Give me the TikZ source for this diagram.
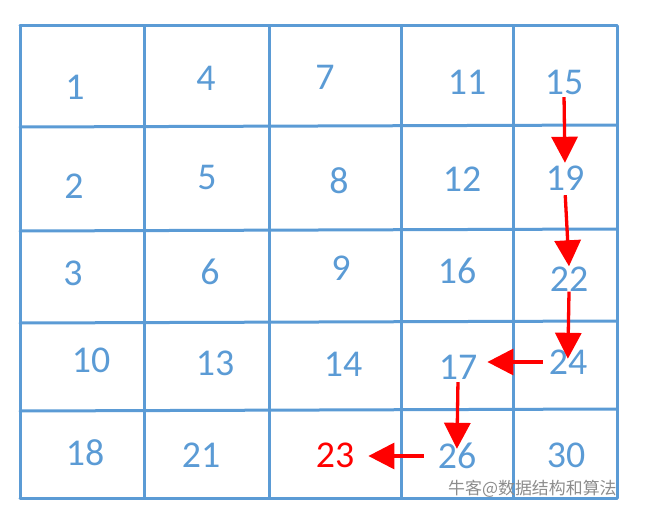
\documentclass[tikz,border=0pt]{standalone}
\usepackage{fontspec}
\setmainfont{Carlito}
\newfontfamily\cjkfont{Noto Sans CJK SC}
\usetikzlibrary{arrows.meta}
\definecolor{gridblue}{HTML}{5B9BD5}
\definecolor{pathred}{HTML}{FF0000}
\definecolor{wmgray}{HTML}{8C8C8C}
\tikzset{
  gridline/.style={draw=gridblue, line width=3bp, line cap=round},
  num/.style={text=gridblue, font=\fontsize{38}{40}\selectfont, inner sep=0pt, text height=25bp, text depth=0pt, anchor=center},
  hot/.style={num, text=pathred},
  arr/.style={draw=pathred, line width=3.3bp, -{Triangle[length=26bp,width=26bp]}},
  wm/.style={text=wmgray, font=\cjkfont\fontsize{17}{18}\selectfont, inner sep=0pt, anchor=west}
}
\begin{document}
\begin{tikzpicture}[x=1bp,y=-1bp]
\useasboundingbox (0,0) rectangle (648,508);
% grid
\draw[gridline] (20,26) -- (617,26);
\draw[gridline] (20,127) -- (617,125);
\draw[gridline] (20,231) -- (617,229);
\draw[gridline] (20,323) -- (617,321);
\draw[gridline] (20,411) -- (617,409);
\draw[gridline] (20,498) -- (617,498);
\draw[gridline] (20,26) -- (20,498);
\draw[gridline] (144,26) -- (144,498);
\draw[gridline] (269,26) -- (269,498);
\draw[gridline] (401,26) -- (401,498);
\draw[gridline] (513,26) -- (513,498);
\draw[gridline] (617,26) -- (617,498);
% numbers
\node[num] (n1)  at (75,87)   {1};
\node[num] (n4)  at (206,78)  {4};
\node[num] (n7)  at (325,77)  {7};
\node[num] (n11) at (467,82)  {11};
\node[num] (n15) at (564,82)  {15};
\node[num] (n2)  at (74,186)  {2};
\node[num] (n5)  at (207,177) {5};
\node[num] (n8)  at (339,181) {8};
\node[num] (n12) at (462,179) {12};
\node[num] (n19) at (565,178) {19};
\node[num] (n3)  at (73,273)  {3};
\node[num] (n6)  at (210,272) {6};
\node[num] (n9)  at (341,268) {9};
\node[num] (n16) at (457,271) {16};
\node[num] (n22) at (569,279) {22};
\node[num] (n10) at (91,360)  {10};
\node[num] (n13) at (215,363) {13};
\node[num] (n14) at (343,364) {14};
\node[num] (n17) at (458,367) {17};
\node[num] (n24) at (568,362) {24};
\node[num] (n18) at (85,453)  {18};
\node[num] (n21) at (201,455) {21};
\node[hot] (n23) at (335,455) {23};
\node[num] (n26) at (457,456) {26};
\node[num] (n30) at (566,455) {30};
% path arrows
\draw[arr, shorten <=2.5bp, shorten >=2.5bp] (n15.south) -- (n19.north);
\draw[arr, shorten <=4.5bp] (n19.south) -- (n22.north);
\draw[arr, shorten >=-9.5bp] (n22.south) -- (n24.north);
\draw[arr, shorten <=6bp, shorten >=10bp] (n24.west) -- (n24.west -| n17.east);
\draw[arr, shorten <=2.5bp, shorten >=-5.5bp] (n17.south) -- (n26.north);
\draw[arr, shorten <=14bp, shorten >=14bp] (n26.west) -- (n26.west -| n23.east);
% watermark
\node[wm] (wmark) at (448,489) {牛客@数据结构和算法};
\end{tikzpicture}
\end{document}
